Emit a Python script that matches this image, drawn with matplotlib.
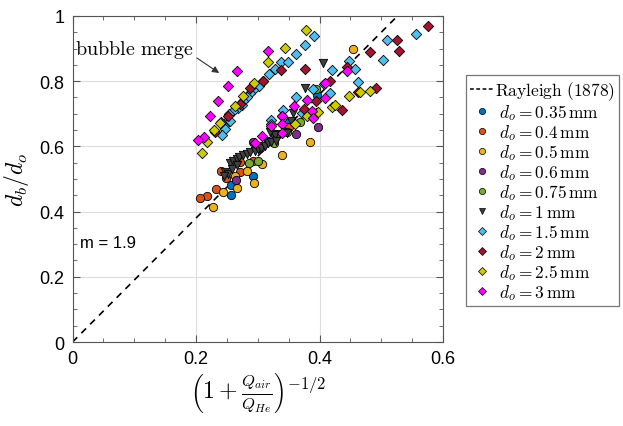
import matplotlib.pyplot as plt
from matplotlib.lines import Line2D
import numpy as np

plt.rcParams['mathtext.fontset'] = 'cm'

# x = (1 + Q_air/Q_He)^(-1/2), y = d_b/d_o for each nozzle diameter
x_035 = [0.292, 0.256, 0.256, 0.351, 0.396, 0.317]
y_035 = [0.508, 0.482, 0.451, 0.674, 0.759, 0.617]

x_04 = [0.241, 0.272, 0.293, 0.248, 0.232, 0.218, 0.206, 0.351, 0.271, 0.303]
y_04 = [0.525, 0.522, 0.554, 0.502, 0.469, 0.449, 0.441, 0.660, 0.551, 0.602]

x_05 = [0.454, 0.384, 0.340, 0.307, 0.282, 0.263, 0.294, 0.266, 0.244, 0.227]
y_05 = [0.899, 0.614, 0.574, 0.546, 0.525, 0.510, 0.488, 0.472, 0.459, 0.413]

x_06 = [0.398, 0.362, 0.293, 0.264, 0.303, 0.333]
y_06 = [0.659, 0.638, 0.614, 0.497, 0.594, 0.638]

x_075 = [0.326, 0.286, 0.301, 0.369, 0.394, 0.347]
y_075 = [0.610, 0.548, 0.556, 0.674, 0.776, 0.643]

x_1 = [0.406, 0.376, 0.357, 0.354, 0.323, 0.328, 0.255, 0.260, 0.266, 0.270,
       0.276, 0.282, 0.287, 0.295, 0.301, 0.306, 0.312, 0.317, 0.322, 0.329,
       0.320, 0.347, 0.247, 0.252, 0.246, 0.258, 0.266]
y_1 = [0.856, 0.779, 0.702, 0.677, 0.638, 0.635, 0.549, 0.556, 0.561, 0.567,
       0.574, 0.577, 0.584, 0.587, 0.592, 0.594, 0.602, 0.609, 0.613, 0.617,
       0.643, 0.641, 0.521, 0.515, 0.510, 0.531, 0.543]

x_15 = [0.391, 0.376, 0.362, 0.338, 0.349, 0.328, 0.318, 0.309, 0.302, 0.293,
        0.287, 0.282, 0.276, 0.274, 0.268, 0.260, 0.254, 0.250, 0.246, 0.255,
        0.247, 0.242,
        0.557, 0.510, 0.503, 0.447, 0.457, 0.420, 0.463, 0.417, 0.389, 0.407,
        0.362, 0.341, 0.371, 0.390, 0.322, 0.340, 0.322]
y_15 = [0.940, 0.912, 0.884, 0.860, 0.858, 0.837, 0.822, 0.802, 0.786, 0.774,
        0.764, 0.751, 0.740, 0.727, 0.718, 0.710, 0.699, 0.679, 0.663, 0.679,
        0.653, 0.635,
        0.945, 0.926, 0.865, 0.861, 0.837, 0.834, 0.797, 0.764, 0.776, 0.791,
        0.751, 0.712, 0.702, 0.697, 0.682, 0.694, 0.669]

x_2 = [0.376, 0.338, 0.309, 0.287, 0.271, 0.251, 0.241, 0.231,
       0.576, 0.526, 0.529, 0.481, 0.445, 0.417, 0.492, 0.462, 0.394, 0.437,
       0.375]
y_2 = [0.837, 0.835, 0.802, 0.778, 0.730, 0.692, 0.674, 0.643,
       0.968, 0.926, 0.892, 0.889, 0.844, 0.802, 0.779, 0.766, 0.740, 0.712,
       0.715]

x_25 = [0.378, 0.344, 0.316, 0.294, 0.276, 0.263, 0.239, 0.229, 0.218, 0.209,
        0.481, 0.465, 0.448, 0.420, 0.425, 0.395, 0.380, 0.361, 0.398]
y_25 = [0.958, 0.903, 0.858, 0.794, 0.756, 0.723, 0.672, 0.650, 0.613, 0.579,
        0.771, 0.766, 0.754, 0.720, 0.728, 0.702, 0.694, 0.669, 0.705]

x_3 = [0.316, 0.267, 0.251, 0.235, 0.223, 0.213, 0.204,
       0.444, 0.409, 0.409, 0.380, 0.358, 0.388, 0.389, 0.339, 0.322, 0.340,
       0.340, 0.307, 0.296]
y_3 = [0.893, 0.832, 0.786, 0.740, 0.692, 0.630, 0.621,
       0.830, 0.794, 0.748, 0.742, 0.725, 0.710, 0.686, 0.692, 0.663, 0.669,
       0.641, 0.633, 0.610]

series = [
    (x_035, y_035, 'o', '#0072BD', r'$\;d_o = 0.35\,\mathrm{mm}$'),
    (x_04, y_04, 'o', '#D95319', r'$\;d_o = 0.4\,\mathrm{mm}$'),
    (x_05, y_05, 'o', '#EDB120', r'$\;d_o = 0.5\,\mathrm{mm}$'),
    (x_06, y_06, 'o', '#7E2F8E', r'$\;d_o = 0.6\,\mathrm{mm}$'),
    (x_075, y_075, 'o', '#77AC30', r'$\;d_o = 0.75\,\mathrm{mm}$'),
    (x_1, y_1, 'v', '#404040', r'$\;d_o = 1\,\mathrm{mm}$'),
    (x_15, y_15, 'D', '#4DBEEE', r'$\;d_o = 1.5\,\mathrm{mm}$'),
    (x_2, y_2, 'D', '#A2142F', r'$\;d_o = 2\,\mathrm{mm}$'),
    (x_25, y_25, 'D', '#CCCC00', r'$\;d_o = 2.5\,\mathrm{mm}$'),
    (x_3, y_3, 'D', '#FF00FF', r'$\;d_o = 3\,\mathrm{mm}$'),
]

m = 1.9

fig = plt.figure(figsize=(6.23, 4.27), dpi=100)
ax = fig.add_axes([0.1164, 0.1967, 0.5947, 0.7636])

xr = np.array([0, 0.6])
ax.plot(xr, m * xr, '--', color='black', lw=1.2, dashes=(4, 3.5), zorder=1)

for xs, ys, mk, col, lab in series:
    ms = 36 if mk != 'D' else 28
    ax.scatter(xs, ys, s=ms, marker=mk, c=col, edgecolors='black',
               linewidths=0.6, zorder=3)

ax.set_xlim(0, 0.6)
ax.set_ylim(0, 1)
ax.set_xticks([0, 0.2, 0.4, 0.6])
ax.set_xticklabels(['0', '0.2', '0.4', '0.6'])
ax.set_yticks([0, 0.2, 0.4, 0.6, 0.8, 1])
ax.set_yticklabels(['0', '0.2', '0.4', '0.6', '0.8', '1'])
ax.set_xticks(np.arange(0, 0.61, 0.05), minor=True)
ax.set_yticks(np.arange(0, 1.01, 0.05), minor=True)
ax.tick_params(which='both', direction='in', top=True, right=True,
               color='#555555', labelsize=13, pad=6)
ax.tick_params(which='major', length=5)
ax.tick_params(which='minor', length=3)
for lbl in ax.get_xticklabels() + ax.get_yticklabels():
    lbl.set_family('Liberation Sans')
for s in ax.spines.values():
    s.set_color('#555555')
ax.grid(True, which='major', color='#dddddd', lw=0.8)
ax.set_axisbelow(True)

ax.set_xlabel(r'$\left(1+\frac{Q_{air}}{Q_{He}}\right)^{-1/2}$', fontsize=17,
              labelpad=2)
ax.set_ylabel(r'$d_b/d_o$', fontsize=17, labelpad=6)

ax.text(0.012, 0.304, 'm = 1.9', fontsize=12, family='Liberation Sans',
        va='center', ha='left')
ax.text(0.197, 0.884, r'$\mathrm{bubble\ merge}$', fontsize=14.5,
        va='baseline', ha='right')
ax.annotate('', xy=(0.2375, 0.825), xytext=(0.2015, 0.871),
            arrowprops=dict(arrowstyle='-|>', color='#333333', lw=0.8,
                            mutation_scale=10, shrinkA=0, shrinkB=0))

handles = [Line2D([], [], ls='--', color='black', lw=1.1, dashes=(2.5, 1.6),
                  label=r'$\mathrm{Rayleigh\ (1878)}$')]
for xs, ys, mk, col, lab in series:
    handles.append(Line2D([], [], ls='none', marker=mk, color=col,
                          markeredgecolor='black', markeredgewidth=0.5,
                          markersize=4.5 if mk != 'D' else 3.8, label=lab))
leg = fig.legend(handles=handles, loc='upper left',
                 bbox_to_anchor=(0.748, 0.822),
                 prop={'size': 12.5},
                 frameon=True, fancybox=False, edgecolor='#555555',
                 handlelength=1.3, handletextpad=0.1, labelspacing=0.0,
                 borderpad=0.25, borderaxespad=0)
leg.get_frame().set_linewidth(0.9)

fig.savefig('out.png', dpi=100)
